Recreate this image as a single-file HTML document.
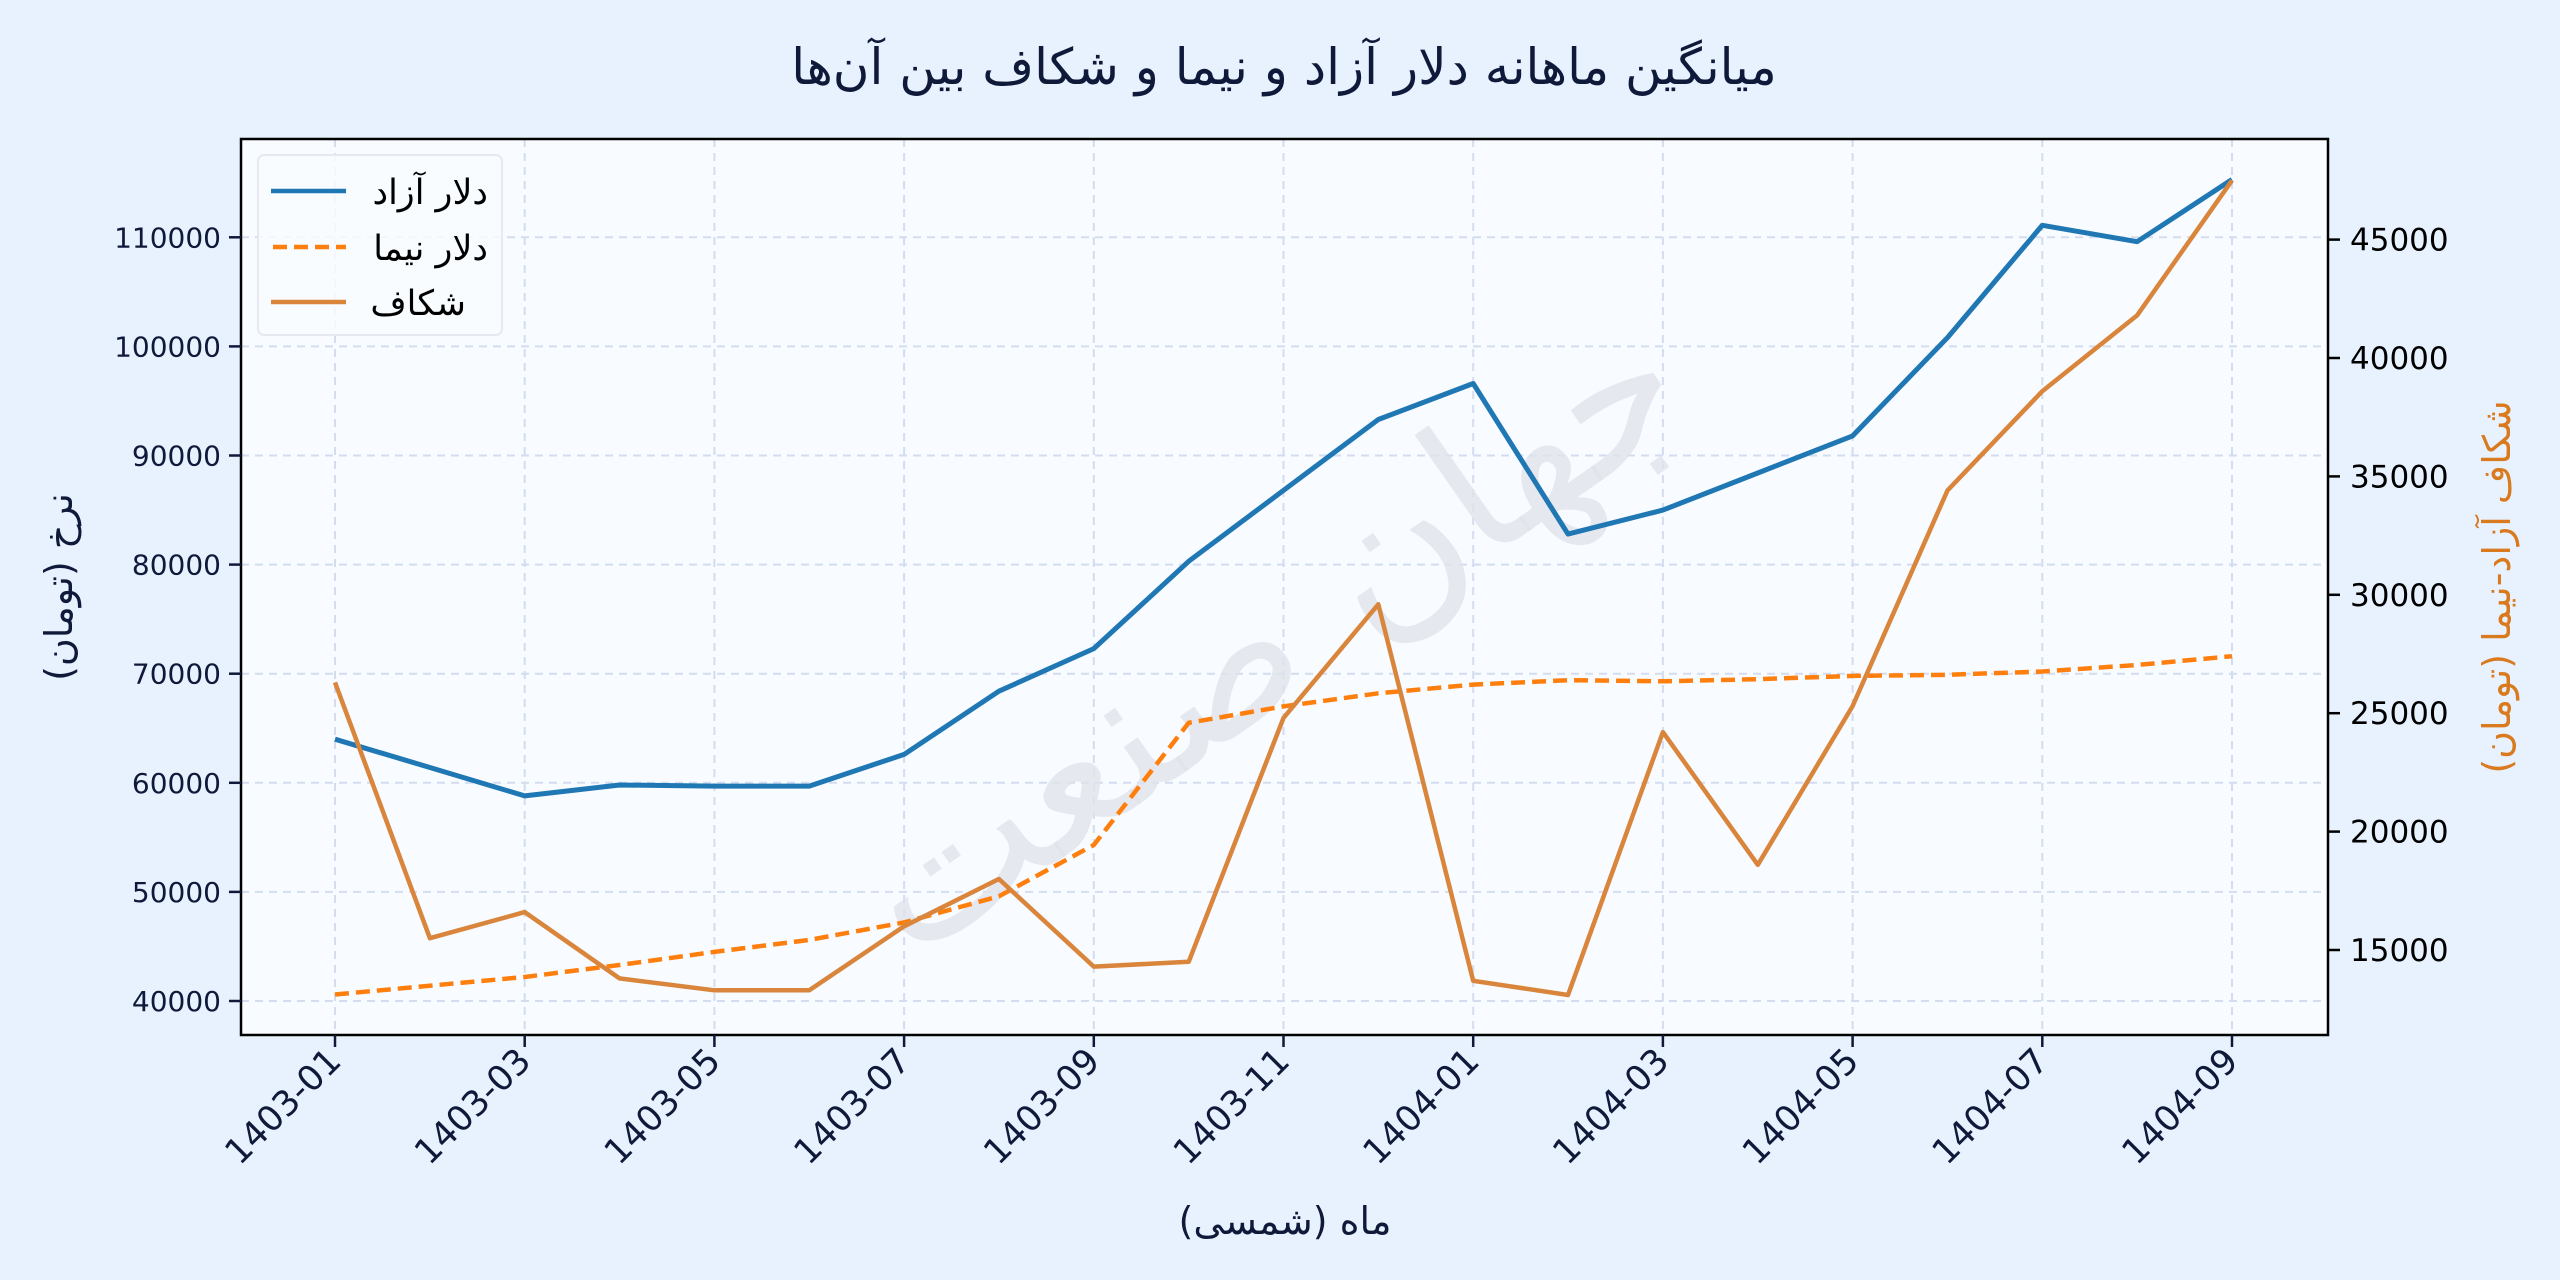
<!DOCTYPE html>
<html><head><meta charset="utf-8">
<style>
html,body{margin:0;padding:0;background:#e8f2fe;}
svg{display:block;}
text{font-family:"DejaVu Sans","Liberation Sans","Noto Sans CJK SC",sans-serif;}
</style></head>
<body>
<svg id="s" width="2560" height="1280" viewBox="0 0 2560 1280" xmlns="http://www.w3.org/2000/svg">
<rect x="0" y="0" width="2560" height="1280" fill="#e8f2fe"/>
<text x="1284" y="84" font-size="50" text-anchor="middle" fill="#0f1a3a">میانگین ماهانه دلار آزاد و نیما و شکاف بین آن‌ها</text>
<rect x="241" y="139" width="2087" height="896" fill="#f8fbff"/>
<g id="grid"></g>
<text x="0" y="0" font-size="190" fill="#dfe3ea" fill-opacity="0.75" text-anchor="middle" transform="translate(1305,688) rotate(-35)">جهان صنعت</text>
<g id="series"></g>
<rect x="241" y="139" width="2087" height="896" fill="none" stroke="#000" stroke-width="2.5"/>
<g id="ticks"></g>
<rect x="258" y="155" width="244" height="180" rx="6" fill="#f8fbff" fill-opacity="0.85" stroke="#e6eaf0" stroke-width="2"/>
<line x1="271" y1="191" x2="346" y2="191" stroke="#1f77b4" stroke-width="4.5"/>
<line x1="273" y1="247" x2="346" y2="247" stroke="#ff7f0e" stroke-width="4.5" stroke-dasharray="14,7"/>
<line x1="271" y1="302" x2="346" y2="302" stroke="#d9853b" stroke-width="4.5"/>
<text x="488" y="204" font-size="35" text-anchor="end" fill="#000">دلار آزاد</text>
<text x="488" y="260" font-size="35" text-anchor="end" fill="#000">دلار نیما</text>
<text x="466" y="315" font-size="35" text-anchor="end" fill="#000">شکاف</text>
<text x="1285" y="1234" font-size="38" text-anchor="middle" fill="#0f1a3a">ماه (شمسی)</text>
<text transform="translate(72,587) rotate(-90)" font-size="38" text-anchor="middle" fill="#0f1a3a">نرخ (تومان)</text>
<text transform="translate(2510,587) rotate(-90)" font-size="38" text-anchor="middle" fill="#d97a1e">شکاف آزاد-نیما (تومان)</text>
</svg>
<script>
const NS="http://www.w3.org/2000/svg";
function el(p,t,a,txt){const e=document.createElementNS(NS,t);for(const k in a)e.setAttribute(k,a[k]);if(txt!==undefined)e.textContent=txt;document.getElementById(p).appendChild(e);return e;}
const L=241,R=2328,T=139,B=1035;
const X=m=>335+m*94.85;
const YL=v=>1001-(v-40000)*0.01091;
const YR=v=>950-(v-15000)*0.02368;
const blue=[64000,61400,58800,59800,59700,59700,62600,68400,72300,80300,86800,93300,96600,82800,85000,88400,91800,100800,111100,109600,115300];
const nima=[40600,41400,42200,43300,44500,45600,47200,49600,54300,65500,67000,68200,69000,69400,69300,69500,69800,69900,70200,70800,71600];
const gap=[26300,15500,16600,13800,13300,13300,16000,18000,14300,14500,24800,29600,13700,13100,24200,18600,25300,34400,38600,41800,47500];
for(let m=0;m<=20;m+=2){el("grid","line",{x1:X(m),y1:T,x2:X(m),y2:B,stroke:"#d3ddef","stroke-width":2,"stroke-dasharray":"8,6"});}
for(let v=40000;v<=110000;v+=10000){el("grid","line",{x1:L,y1:YL(v),x2:R,y2:YL(v),stroke:"#d3ddef","stroke-width":2,"stroke-dasharray":"8,6"});}
const pts=(a,f)=>a.map((v,i)=>X(i).toFixed(1)+","+f(v).toFixed(1)).join(" ");
el("series","polyline",{points:pts(nima,YL),fill:"none",stroke:"#ff7f0e","stroke-width":4.5,"stroke-dasharray":"14,7"});
el("series","polyline",{points:pts(blue,YL),fill:"none",stroke:"#1f77b4","stroke-width":5,"stroke-linejoin":"round"});
el("series","polyline",{points:pts(gap,YR),fill:"none",stroke:"#d9853b","stroke-width":4.5,"stroke-linejoin":"round"});
for(let v=40000;v<=110000;v+=10000){const y=YL(v);el("ticks","line",{x1:L-12,y1:y,x2:L,y2:y,stroke:"#0f1a3a","stroke-width":2.5});el("ticks","text",{x:L-20,y:y+10,"font-size":28,"text-anchor":"end",fill:"#0f1a3a"},String(v));}
for(let v=15000;v<=45000;v+=5000){const y=YR(v);el("ticks","line",{x1:R,y1:y,x2:R+12,y2:y,stroke:"#000","stroke-width":2.5});el("ticks","text",{x:R+22,y:y+11,"font-size":31,fill:"#000"},String(v));}
const labs=["1403-01","1403-03","1403-05","1403-07","1403-09","1403-11","1404-01","1404-03","1404-05","1404-07","1404-09"];
labs.forEach((s,i)=>{const x=X(i*2);el("ticks","line",{x1:x,y1:B,x2:x,y2:B+12,stroke:"#0f1a3a","stroke-width":2.5});el("ticks","text",{transform:`translate(${x+8},${B+28}) rotate(-45)`,"font-size":35,"text-anchor":"end",fill:"#0f1a3a"},s);});
</script>
</body></html>
